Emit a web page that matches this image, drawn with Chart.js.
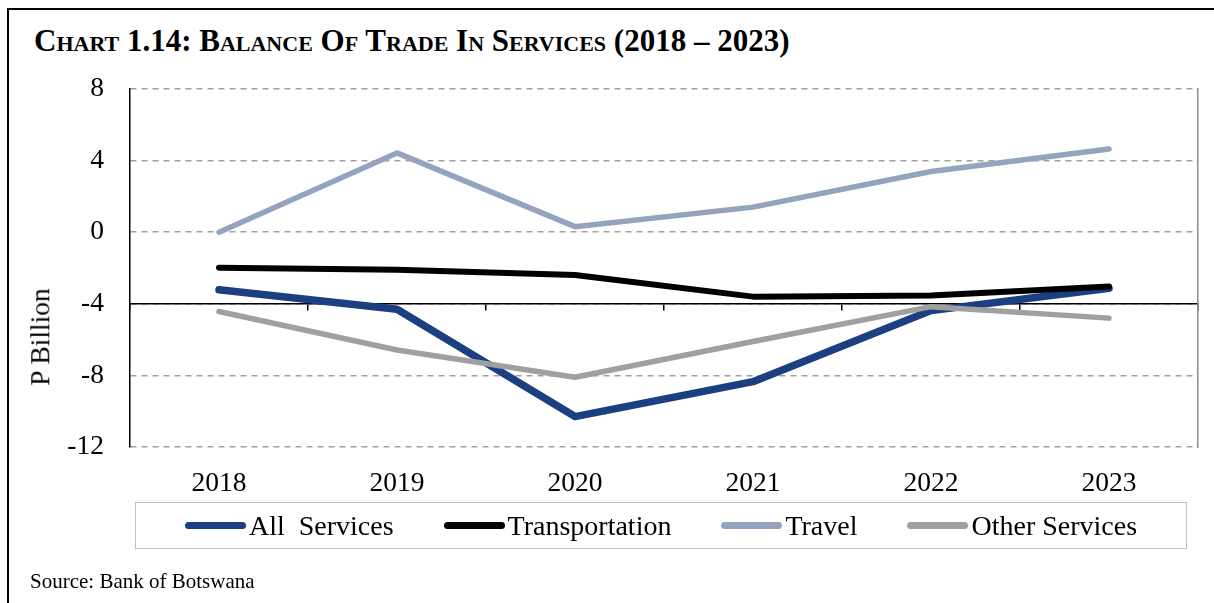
<!DOCTYPE html>
<html>
<head>
<meta charset="utf-8">
<title>Balance of Trade in Services</title>
<script src="https://cdn.jsdelivr.net/npm/chart.js@4.4.0/dist/chart.umd.min.js"></script>
<style>
  html, body { margin: 0; padding: 0; background: #fff; overflow: hidden; }
  body { width: 1214px; height: 603px; position: relative; font-family: 'Liberation Serif', 'Times New Roman', serif; color: #000; }
  #frame { position: absolute; left: 7px; top: 8px; width: 1300px; height: 700px; border-left: 2px solid #000; border-top: 2px solid #000; }
  #title { position: absolute; left: 34px; top: 25px; font-size: 31px; line-height: 1; font-weight: bold; font-variant: small-caps; white-space: nowrap; }
  #chartBox { position: absolute; left: 0; top: 0; width: 1214px; height: 603px; }
  #yTitle { position: absolute; left: 40px; top: 337px; font-size: 27.5px; line-height: 1; white-space: nowrap; transform: translate(-50%, -50%) rotate(-90deg); }
  #legend { position: absolute; left: 135px; top: 502px; width: 1050px; height: 45px; border: 1.5px solid #c0c0c0; display: flex; align-items: center; justify-content: center; gap: 50px; }
  .item { display: flex; align-items: center; font-size: 28px; line-height: 1; white-space: pre; }
  .swatch { width: 61px; height: 7px; border-radius: 4px; margin-right: 3px; }
  #source { position: absolute; left: 30px; top: 571px; font-size: 21px; line-height: 1; white-space: nowrap; }
</style>
</head>
<body>
<div id="frame"></div>
<div id="title">Chart 1.14: Balance Of Trade In Services (2018 – 2023)</div>
<div id="chartBox"><canvas id="trade"></canvas></div>
<div id="yTitle">P Billion</div>
<div id="legend"></div>
<div id="source">Source: Bank of Botswana</div>
<script>
// P billion, 2018 - 2023
const years = ['2018', '2019', '2020', '2021', '2022', '2023'];
const allServices = [-3.22, -4.3, -10.3, -8.35, -4.38, -3.13];
const transportation = [-1.98, -2.1, -2.39, -3.6, -3.54, -3.04];
const travel = [0.0, 4.43, 0.31, 1.4, 3.39, 4.65];
const otherServices = [-4.43, -6.58, -8.1, -6.11, -4.16, -4.8];
const yTicks = [-12, -8, -4, 0, 4, 8];

const series = [
  { label: 'All  Services', data: allServices, color: '#1b3f80', width: 7.5 },
  { label: 'Transportation', data: transportation, color: '#000000', width: 6 },
  { label: 'Travel', data: travel, color: '#95a4be', width: 5.5 },
  { label: 'Other Services', data: otherServices, color: '#a0a0a0', width: 5.5 }
];

Chart.defaults.font.family = "'Liberation Serif', 'Times New Roman', serif";
Chart.defaults.color = '#000';

// draw order: last series first so the navy line sits on top
const datasets = series.map((s, i) => ({
  label: s.label,
  data: s.data,
  borderColor: s.color,
  backgroundColor: s.color,
  borderWidth: s.width,
  borderCapStyle: 'round',
  borderJoinStyle: 'round',
  pointRadius: 0,
  tension: 0,
  fill: false,
  order: series.length - i
}));

new Chart(document.getElementById('trade'), {
  type: 'line',
  data: { labels: years, datasets: datasets },
  options: {
    responsive: true,
    maintainAspectRatio: false,
    animation: false,
    layout: { padding: { top: 89, right: 16, left: 0, bottom: 0 } },
    plugins: {
      legend: { display: false },
      tooltip: { enabled: false }
    },
    scales: {
      x: {
        type: 'category',
        position: 'bottom',
        offset: true,
        grid: { display: false },
        border: { display: false },
        ticks: { font: { size: 27.5 }, padding: 12, maxRotation: 0, autoSkip: false },
        afterFit: s => { s.height = 156; }
      },
      // axis line crossing at -4 with its tick marks
      x2: {
        type: 'category',
        axis: 'x',
        position: { y: -4 },
        offset: true,
        ticks: { display: false },
        grid: { offset: true, drawOnChartArea: false, drawTicks: true, tickLength: 6, color: '#000', lineWidth: 1.5 },
        border: { display: true, color: '#000', width: 1.5 }
      },
      y: {
        min: -12,
        max: 8,
        afterBuildTicks: s => { s.ticks = yTicks.map(v => ({ value: v })); },
        ticks: { font: { size: 27.5 }, padding: 26 },
        grid: { color: '#a0a0a0', lineWidth: 1.5, drawTicks: false },
        border: { display: true, color: '#000', width: 1.5, dash: [6, 5] },
        afterFit: s => { s.width = 130; }
      },
      // right-hand edge of the plot area
      y2: {
        position: 'right',
        min: -12,
        max: 8,
        ticks: { display: false },
        grid: { display: false, drawTicks: false },
        border: { display: true, color: '#8c8c8c', width: 1.5 },
        afterFit: s => { s.width = 0; }
      }
    }
  }
});

// legend row built from the same series list
const legend = document.getElementById('legend');
series.forEach(s => {
  const item = document.createElement('div');
  item.className = 'item';
  const sw = document.createElement('span');
  sw.className = 'swatch';
  sw.style.background = s.color;
  const txt = document.createElement('span');
  txt.textContent = s.label;
  item.appendChild(sw);
  item.appendChild(txt);
  legend.appendChild(item);
});
</script>
</body>
</html>
